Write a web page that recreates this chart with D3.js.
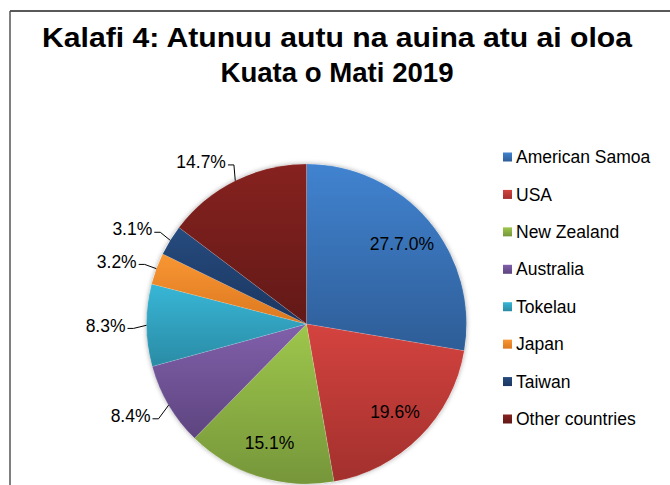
<!DOCTYPE html>
<html>
<head>
<meta charset="utf-8">
<script src="https://cdn.jsdelivr.net/npm/d3@7"></script>
<style>
html,body{margin:0;padding:0;background:#fff;}
svg{display:block;}
text{font-family:"Liberation Sans",Arial,sans-serif;}
</style>
</head>
<body>
<svg id="chart" width="670" height="485"></svg>
<script>
const titleLines = ["Kalafi 4: Atunuu autu na auina atu ai oloa", "Kuata o Mati 2019"];
const categories = ["American Samoa","USA","New Zealand","Australia","Tokelau","Japan","Taiwan","Other countries"];
const values = [27.7, 19.6, 15.1, 8.4, 8.3, 3.2, 3.1, 14.7];
const labels = ["27.7.0%","19.6%","15.1%","8.4%","8.3%","3.2%","3.1%","14.7%"];
const insideLabel = [true,true,true,false,false,false,false,false];
const colorsTop = ["#4183D0","#D4433F","#9EC74C","#8160AB","#38B6D6","#F99633","#254B7E","#86221F"];
const colorsBottom = ["#2E5D97","#A2302D","#76963A","#5D447F","#2A8BA5","#DC781F","#1C3660","#621917"];

const svg = d3.select("#chart");
const W = 670, H = 485;
const cx = 306.5, cy = 324, r = 160;

// frame
svg.append("line").attr("x1",10).attr("x2",W).attr("y1",11).attr("y2",11)
  .attr("stroke","#222").attr("stroke-width",1.3);
svg.append("line").attr("x1",10).attr("x2",10).attr("y1",11).attr("y2",H)
  .attr("stroke","#555").attr("stroke-width",1.5);

// title
const tl = [{t:titleLines[0], y:47, w:590},{t:titleLines[1], y:82, w:233}];
svg.selectAll("text.title").data(tl).enter().append("text")
  .attr("class","title")
  .attr("x",337).attr("y",d=>d.y)
  .attr("text-anchor","middle")
  .attr("font-size",28).attr("font-weight","bold").attr("fill","#000")
  .attr("textLength",d=>d.w).attr("lengthAdjust","spacingAndGlyphs")
  .text(d=>d.t);

const defs = svg.append("defs");
categories.forEach((c,i)=>{
  const g = defs.append("linearGradient").attr("id","g"+i)
    .attr("x1",0).attr("y1",0).attr("x2",0).attr("y2",1);
  g.append("stop").attr("offset","0%").attr("stop-color",colorsTop[i]);
  g.append("stop").attr("offset","100%").attr("stop-color",colorsBottom[i]);
});
const f = defs.append("filter").attr("id","sh").attr("x","-10%").attr("y","-10%").attr("width","120%").attr("height","120%");
f.append("feDropShadow").attr("dx",0).attr("dy",0).attr("stdDeviation",2.5)
  .attr("flood-color","#000").attr("flood-opacity",0.35);

const pie = d3.pie().sort(null).value(d=>d);
const arcs = pie(values);
const arc = d3.arc().innerRadius(0).outerRadius(r);

const g = svg.append("g").attr("transform",`translate(${cx},${cy})`);
g.append("circle").attr("r",r).attr("fill","#fff").attr("filter","url(#sh)");
g.selectAll("path.slice").data(arcs).enter().append("path")
  .attr("class","slice")
  .attr("d",arc)
  .attr("fill",(d,i)=>`url(#g${i})`)
  .attr("stroke","rgba(255,255,255,0.25)").attr("stroke-width",0.5);

// inside labels
const inArc = d3.arc().innerRadius(r*0.78).outerRadius(r*0.78);
g.selectAll("text.in").data(arcs.filter((d,i)=>insideLabel[i])).enter().append("text")
  .attr("class","in")
  .attr("transform",d=>{const c=inArc.centroid(d);return `translate(${c[0]},${c[1]})`;})
  .attr("text-anchor","middle").attr("dy","0.35em")
  .attr("font-size",17.5).attr("fill","#000")
  .text(d=>labels[d.index]);

// outside labels with leaders
const outArc = d3.arc().innerRadius(r+21).outerRadius(r+21);
const edgeArc = d3.arc().innerRadius(r).outerRadius(r);
const outs = arcs.filter((d,i)=>!insideLabel[i]);
outs.forEach(d=>{
  const lp = outArc.centroid(d);
  const ep = edgeArc.centroid(d);
  const lx = lp[0]+2, ly = lp[1]+3;
  g.append("path")
    .attr("d",`M${lx},${ly}H${lx+6}L${ep[0]},${ep[1]}`)
    .attr("fill","none").attr("stroke","#000").attr("stroke-width",1);
  g.append("text")
    .attr("x",lp[0]).attr("y",lp[1])
    .attr("text-anchor","end").attr("dy","0.35em")
    .attr("font-size",17.5).attr("fill","#000")
    .text(labels[d.index]);
});

// legend
const ly = d3.scalePoint().domain(categories).range([157,419]);
const leg = svg.append("g");
const items = leg.selectAll("g").data(categories).enter().append("g")
  .attr("transform",d=>`translate(503,${ly(d)})`);
items.append("rect").attr("x",0).attr("y",-4.5).attr("width",9).attr("height",9)
  .attr("fill",(d,i)=>`url(#g${i})`);
items.append("text").attr("x",13).attr("dy","0.35em")
  .attr("font-size",17.5).attr("fill","#000").text(d=>d);
</script>
</body>
</html>
